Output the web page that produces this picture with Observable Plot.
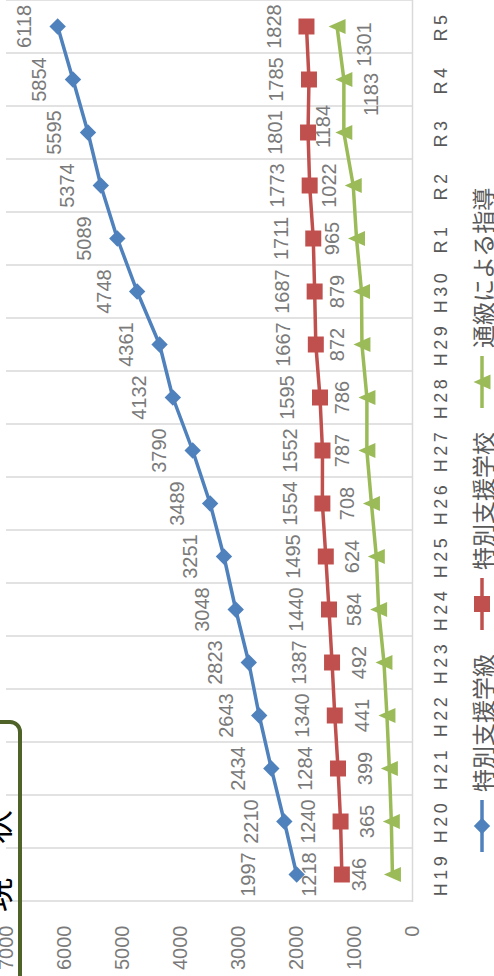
<!DOCTYPE html>
<html><head><meta charset="utf-8">
<script src="https://cdn.jsdelivr.net/npm/d3@7"></script>
<script src="https://cdn.jsdelivr.net/npm/@observablehq/plot@0.6"></script>
<style>
html,body{margin:0;padding:0;background:#fff;overflow:hidden;width:494px;height:976px}
#stage{position:absolute;left:0;top:0;width:976px;height:494px;transform-origin:0 0;transform:translate(0px,976px) rotate(-90deg);overflow:hidden;background:#fff}
#chart{position:absolute;left:0;top:0}
#box{position:absolute;left:-20px;top:-40px;width:276px;height:62px;box-sizing:border-box;border:4px solid #4f6228;border-radius:12px}
#boxtext{position:absolute;left:64px;top:-22px;font:34px "Noto Sans CJK JP",sans-serif;color:#000;line-height:34px;white-space:pre}
.leg{position:absolute;top:467px;height:30px;display:flex;align-items:center;font:23px "Noto Sans CJK JP",sans-serif;color:#595959;white-space:nowrap}
.leg svg{margin-right:8px}
</style></head><body>
<div id="stage">
  <div id="chart"></div>
  <div id="box"></div>
  <div id="boxtext">現　状</div>
</div>
<script>
const categories = ["H19","H20","H21","H22","H23","H24","H25","H26","H27","H28","H29","H30","R1","R2","R3","R4","R5"];
const specialClass  = [1997,2210,2434,2643,2823,3048,3251,3489,3790,4132,4361,4748,5089,5374,5595,5854,6118];
const specialSchool = [1218,1240,1284,1340,1387,1440,1495,1554,1552,1595,1667,1687,1711,1773,1801,1785,1828];
const tsukyu        = [346,365,399,441,492,584,624,708,787,786,872,879,965,1022,1184,1183,1301];
const seriesNames = ["特別支援学級","特別支援学校","通級による指導"];
const valueTicks = [0,1000,2000,3000,4000,5000,6000,7000];

const colors = ["#4f81bd","#c0504d","#9bbb59"];
const W = 976, H = 494, mL = 74, mR = 0, mT = 6, mB = 82;
const step = (W - mL - mR) / categories.length;

// custom marker symbols
const diamondSym = {draw(ctx){const r=8.2;ctx.moveTo(0,-r);ctx.lineTo(r,0);ctx.lineTo(0,r);ctx.lineTo(-r,0);ctx.closePath();}};
const squareSym  = {draw(ctx){const r=8;ctx.rect(-r,-r,2*r,2*r);}};
const triSym     = {draw(ctx){const w=7.5,h=8.5;ctx.moveTo(0,-h);ctx.lineTo(w,h);ctx.lineTo(-w,h);ctx.closePath();}};
const symbols = [diamondSym, squareSym, triSym];

const seriesValues = [specialClass, specialSchool, tsukyu];
const rows = [];
seriesValues.forEach((vals, si) => vals.forEach((v, i) => rows.push({cat: categories[i], value: v, s: si})));

// label placement (style, not data): default offset per series, plus a few hand-placed labels
const baseDy = [-33, -32, -24];
const labelAdjust = {"0-H19": {dy: -48}, "2-H19": {dy: -33}, "2-R3": {dy: -20, dx: 6}, "2-R4": {dy: 28, dx: -15}, "2-R5": {dy: 28, dx: -18}};
const keyOf = d => d.s + "-" + d.cat;
const labelFont = "Liberation Sans, Arial, sans-serif";

const marks = [
  Plot.ruleX(categories, {x: d => d, dx: -step / 2, y1: 0, y2: 7000, stroke: "#d9d9d9", strokeWidth: 1.5}),
  Plot.ruleX(categories.slice(-1), {x: d => d, dx: step / 2, y1: 0, y2: 7000, stroke: "#d9d9d9", strokeWidth: 1.5}),
  Plot.ruleY([0], {stroke: "#d9d9d9", strokeWidth: 1.5}),
  Plot.axisY({ticks: valueTicks, tickSize: 0, tickPadding: 24, tickFormat: d => String(d), fontSize: 20, fill: "#7a7a7a"}),
  Plot.axisX({tickSize: 0, tickPadding: 22, fontSize: 18, fill: "#595959"})
];
seriesValues.forEach((vals, si) => {
  const data = rows.filter(d => d.s === si);
  marks.push(Plot.line(data, {x: "cat", y: "value", stroke: colors[si], strokeWidth: 3.5}));
  marks.push(Plot.dot(data, {x: "cat", y: "value", symbol: symbols[si], r: 1, fill: colors[si], stroke: "none"}));
});
rows.forEach(d => {
  const a = labelAdjust[keyOf(d)] || {};
  marks.push(Plot.text([d], {x: "cat", y: "value", text: r => String(r.value),
    dy: a.dy !== undefined ? a.dy : baseDy[d.s], dx: a.dx || 0, fontSize: 20, fill: "#7a7a7a", fontFamily: labelFont}));
});

const plot = Plot.plot({
  width: W, height: H, marginLeft: mL, marginRight: mR, marginTop: mT, marginBottom: mB,
  x: {type: "point", domain: categories, padding: 0.5, label: null, axis: null},
  y: {domain: [0, 7000], label: null, axis: null},
  style: {fontFamily: labelFont, background: "transparent", overflow: "visible"},
  marks
});
document.getElementById("chart").appendChild(plot);

d3.select(plot).selectAll('[aria-label="x-axis tick label"] text').attr("letter-spacing", "3.5px");

// legend
const stage = document.getElementById("stage");
const legendX = [124, 346, 568];
seriesNames.forEach((name, si) => {
  const div = document.createElement("div");
  div.className = "leg";
  div.style.left = legendX[si] + "px";
  const svg = d3.create("svg").attr("width", 52).attr("height", 30);
  svg.append("line").attr("x1", 0).attr("x2", 52).attr("y1", 15).attr("y2", 15).attr("stroke", colors[si]).attr("stroke-width", 3.5);
  svg.append("path").attr("transform", "translate(26,15)").attr("fill", colors[si]).attr("d", d3.symbol(symbols[si])());
  div.appendChild(svg.node());
  const span = document.createElement("span");
  span.textContent = name;
  div.appendChild(span);
  stage.appendChild(div);
});
</script>
</body></html>
